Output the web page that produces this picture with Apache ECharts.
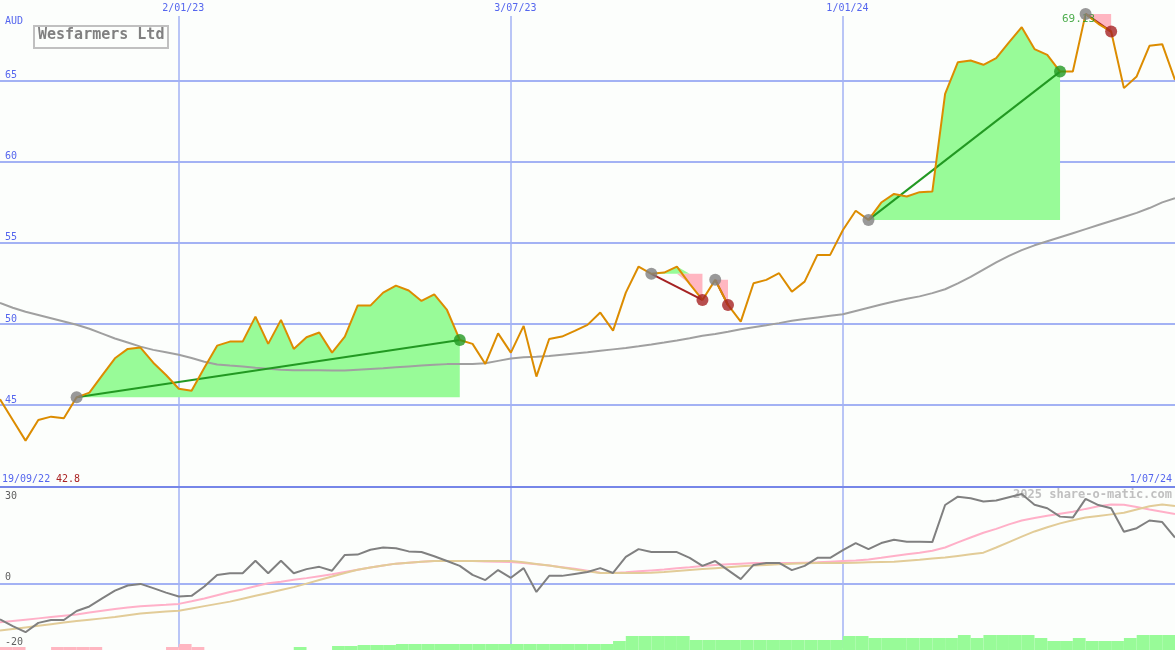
<!DOCTYPE html>
<html><head><meta charset="utf-8">
<script src="https://cdn.jsdelivr.net/npm/echarts@6/dist/echarts.min.js"></script>
<style>html,body{margin:0;padding:0;background:#fcfefc}#c{width:1175px;height:650px}</style>
</head><body><div id="c"></div>
<script>
// ---- data ----
const startDate = '2022-09-26';   // first weekly bar
const weekCount = 93;
const rangeStartLabel = '19/09/22';
const gridDates = ['2/01/23', '3/07/23', '1/01/24'];
const price = [45.35,44.07,42.8,44.07,44.28,44.18,45.47,45.76,46.83,47.88,48.46,48.54,47.61,46.85,46.0,45.88,47.29,48.66,48.91,48.91,
50.45,48.77,50.25,48.46,49.18,49.47,48.23,49.22,51.13,51.13,51.93,52.36,52.06,51.42,51.83,50.86,49.01,48.77,47.53,49.42,
48.23,49.88,46.75,49.07,49.22,49.57,49.94,50.70,49.59,51.93,53.54,53.09,53.17,53.54,52.47,51.48,52.72,51.17,50.14,52.51,
52.72,53.13,51.99,52.61,54.26,54.26,55.8,56.98,56.42,57.49,58.02,57.86,58.13,58.17,64.2,66.15,66.25,65.99,66.4,67.37,
68.31,66.96,66.6,65.57,65.57,69.13,68.52,68.04,64.55,65.27,67.16,67.26,65.06];
const ma40 = [51.3,51.0,50.75,50.55,50.35,50.15,49.95,49.7,49.4,49.1,48.85,48.6,48.4,48.25,48.1,47.9,47.67,47.5,47.43,47.38,
47.3,47.24,47.18,47.14,47.14,47.14,47.12,47.13,47.18,47.22,47.26,47.32,47.38,47.43,47.48,47.52,47.53,47.53,47.57,47.72,
47.87,47.94,47.97,48.02,48.1,48.18,48.25,48.34,48.43,48.52,48.62,48.73,48.85,48.98,49.12,49.27,49.38,49.52,49.67,49.8,
49.92,50.05,50.2,50.3,50.4,50.5,50.6,50.8,51.0,51.2,51.38,51.55,51.7,51.9,52.14,52.5,52.9,53.35,53.8,54.2,
54.55,54.85,55.1,55.35,55.6,55.85,56.1,56.35,56.6,56.85,57.15,57.5,57.76];
const oscGray = [-11.1,-13.2,-15.1,-12.2,-11.3,-11.3,-8.5,-7.1,-4.6,-2.2,-0.6,-0.1,-1.4,-2.8,-4.0,-3.8,-0.9,2.7,3.2,3.2,
7.1,3.2,7.1,3.2,4.5,5.2,4.0,8.9,9.0,10.5,11.2,11.0,10.0,9.8,8.5,7.0,5.5,2.7,1.1,4.2,
1.8,4.8,-2.6,2.4,2.4,3.0,3.6,4.8,3.3,8.3,10.7,9.8,9.8,9.8,8.0,5.5,7.0,4.2,1.4,5.8,
6.4,6.4,4.2,5.5,8.0,8.0,10.4,12.6,10.7,12.6,13.6,13.0,13.0,12.9,24.4,27.0,26.5,25.5,25.8,26.8,
27.8,24.5,23.4,20.8,20.5,26.3,24.4,23.4,16.1,17.2,19.6,19.1,14.3];
const oscPink = [-12.0,-11.6,-11.2,-10.8,-10.4,-10.0,-9.6,-9.0,-8.4,-7.9,-7.4,-7.0,-6.8,-6.6,-6.3,-5.5,-4.6,-3.6,-2.6,-1.8,
-0.8,0.1,0.6,1.2,1.7,2.3,2.9,3.6,4.3,5.0,5.6,6.2,6.5,6.8,7.0,7.0,7.0,7.0,6.9,6.8,
6.7,6.4,6.0,5.6,5.1,4.6,4.0,3.4,3.3,3.5,3.8,4.1,4.4,4.8,5.1,5.5,5.8,6.0,6.2,6.4,
6.4,6.4,6.4,6.5,6.6,6.8,7.0,7.2,7.5,8.0,8.6,9.1,9.6,10.2,11.2,12.8,14.3,15.8,17.0,18.4,
19.6,20.4,21.1,21.7,22.3,23.2,24.0,24.6,24.5,23.8,23.0,22.3,21.6];
const oscTan = [-14.6,-14.1,-13.6,-13.1,-12.6,-12.1,-11.6,-11.2,-10.8,-10.4,-9.8,-9.3,-9.0,-8.7,-8.4,-7.7,-7.0,-6.3,-5.6,-4.7,
-3.8,-2.9,-2.0,-1.1,0.0,1.1,2.2,3.3,4.3,5.0,5.6,6.2,6.5,6.8,7.0,7.0,7.0,7.0,7.0,7.0,
7.0,6.6,6.1,5.6,5.0,4.4,3.8,3.3,3.3,3.3,3.3,3.4,3.6,3.9,4.2,4.5,4.8,5.1,5.4,5.6,
5.8,6.0,6.2,6.3,6.4,6.4,6.4,6.5,6.6,6.7,6.8,7.1,7.4,7.8,8.1,8.6,9.1,9.6,11.2,12.9,
14.6,16.2,17.5,18.7,19.7,20.5,21.0,21.5,22.0,23.0,24.0,24.6,24.1];
// one bar per week interval (92)
const volumeBars = [-3,-3,0,0,-3,-3,-3,-3,0,0,0,0,0,-3,-6,-3,0,0,0,0,
0,0,0,3,0,0,4,4,5,5,5,6,6,6,6,6,6,6,6,6,
6,6,6,6,6,6,6,6,9,14,14,14,14,14,10,10,10,10,10,10,
10,10,10,10,10,10,14,14,12,12,12,12,12,12,12,15,12,15,15,15,
15,12,9,9,12,9,9,9,12,15,15,15];
const tradeEntry = [6, 51, 56, 68, 85];
const tradeExit  = [36, 55, 57, 83, 87];

// ---- helpers ----
const N = weekCount;
const dates = [];
{
  const d0 = new Date(startDate + 'T00:00:00Z');
  for (let i = 0; i < N; i++) {
    const d = new Date(d0.getTime() + i * 7 * 86400000);
    dates.push(d.getUTCDate() + '/' + String(d.getUTCMonth() + 1).padStart(2, '0') + '/' + String(d.getUTCFullYear() % 100).padStart(2, '0'));
  }
}
const isGrid = (i) => gridDates.indexOf(dates[i]) >= 0;

const BLUE = '#5566ee', GRID = '#a3b2f4';
const GREEN_FILL = '#98fb98', PINK_FILL = '#ffb6c1';
const WIN = '#229922', LOSS = '#a52222';
const MONO = '"DejaVu Sans Mono", monospace';

const series = [];
// fills between entry level and price
tradeEntry.forEach((e, t) => {
  const x = tradeExit[t], lvl = price[e];
  [1, -1].forEach(sign => {
    const base = [], top = [];
    for (let i = 0; i < N; i++) {
      if (i < e || i > x) { base.push('-'); top.push('-'); continue; }
      if (sign > 0) { base.push(lvl); top.push(Math.max(price[i], lvl) - lvl); }
      else { const m = Math.min(price[i], lvl); base.push(m); top.push(lvl - m); }
    }
    const st = 'fill' + t + (sign > 0 ? 'g' : 'p');
    series.push({ type: 'line', stack: st, data: base, symbol: 'none', clip: false, lineStyle: { width: 0, opacity: 0 }, silent: true, z: 1 });
    series.push({ type: 'line', stack: st, data: top, symbol: 'none', clip: false, lineStyle: { width: 0, opacity: 0 },
      areaStyle: { color: sign > 0 ? GREEN_FILL : PINK_FILL, opacity: 1 }, silent: true, z: 1 });
  });
});
// long moving average
series.push({ type: 'line', data: ma40, symbol: 'none', lineStyle: { color: '#a0a0a0', width: 2 }, z: 3 });
// trade lines
tradeEntry.forEach((e, t) => {
  const x = tradeExit[t];
  const d = price.map((v, i) => (i === e || i === x) ? v : '-');
  series.push({ type: 'line', data: d, connectNulls: true, symbol: 'none', clip: false,
    lineStyle: { color: price[x] >= price[e] ? WIN : LOSS, width: 2 }, z: 4 });
});
// price
series.push({ type: 'line', data: price, symbol: 'none', clip: false, lineStyle: { color: '#dc8c00', width: 2 }, z: 5 });
// markers
const lastT = tradeEntry.length - 1;
series.push({ type: 'scatter', symbolSize: 12, clip: false, itemStyle: { color: '#808080' }, z: 7,
  data: tradeEntry.map((e) => [e, price[e]]) });
series.push({ type: 'scatter', symbolSize: 12, clip: false, z: 7,
  data: tradeExit.map((x, t) => ({ value: [x, price[x]], itemStyle: { color: price[x] >= price[tradeEntry[t]] ? WIN : LOSS } })) });
// entry price label of the latest trade
series.push({ type: 'scatter', symbolSize: 1, clip: false, z: 6, itemStyle: { color: 'transparent' },
  data: [{ value: [tradeEntry[lastT], price[tradeEntry[lastT]]],
    label: { show: true, formatter: price[tradeEntry[lastT]].toFixed(2), position: 'left', distance: -10, offset: [0, 5],
      color: WIN, fontFamily: MONO, fontSize: 11 } }] });
// lower panel
series.push({ type: 'line', xAxisIndex: 1, yAxisIndex: 1, data: oscPink, symbol: 'none', lineStyle: { color: '#ffb0c8', width: 2 }, z: 3 });
series.push({ type: 'line', xAxisIndex: 1, yAxisIndex: 1, data: oscTan, symbol: 'none', lineStyle: { color: '#e2cc98', width: 2 }, z: 3 });
series.push({ type: 'line', xAxisIndex: 1, yAxisIndex: 1, data: oscGray, symbol: 'none', lineStyle: { color: '#808080', width: 2 }, z: 4 });
series.push({ type: 'bar', xAxisIndex: 2, yAxisIndex: 2, barCategoryGap: '0%', z: 2,
  data: volumeBars.map(v => ({ value: Math.abs(v), itemStyle: { color: v < 0 ? PINK_FILL : GREEN_FILL } })) });

const catAxis = (gi, extra) => Object.assign({
  type: 'category', gridIndex: gi, data: dates, boundaryGap: false,
  axisTick: { show: false }, axisLine: { show: false }, axisLabel: { show: false },
  splitLine: { show: true, interval: (i) => isGrid(i), lineStyle: { color: GRID, width: 1.5 } }
}, extra);

const option = {
  animation: false,
  backgroundColor: '#fcfefc',
  grid: [
    { left: 0, right: 0, top: 16, height: 470 },
    { left: 0, right: 0, top: 487, height: 161 },
    { left: 0, right: 0, top: 630, height: 20 }
  ],
  xAxis: [
    catAxis(0, { position: 'top', axisLabel: { show: true, interval: (i) => isGrid(i), margin: 3, padding: [0, 0, 0, 9],
      color: BLUE, fontFamily: MONO, fontSize: 10 } }),
    catAxis(1, { position: 'top', axisLine: { show: true, onZero: false, lineStyle: { color: '#7686e8', width: 2 } } }),
    catAxis(2, { data: dates.slice(0, N - 1), boundaryGap: true, splitLine: { show: false } })
  ],
  yAxis: [
    { type: 'value', gridIndex: 0, min: 40, max: 69, interval: 5,
      axisLine: { show: false }, axisTick: { show: false },
      axisLabel: { inside: true, margin: 5, verticalAlign: 'bottom', color: BLUE, fontFamily: MONO, fontSize: 10,
        formatter: v => (v > 40 && v % 5 === 0) ? String(v) : '' },
      splitLine: { show: true, lineStyle: { color: ['transparent', GRID, GRID, GRID, GRID, GRID, 'transparent'], width: 2 } } },
    { type: 'value', gridIndex: 1, min: -20, max: 30, interval: 10,
      axisLine: { show: false }, axisTick: { show: false },
      axisLabel: { inside: true, margin: 5, verticalAlign: 'middle', color: '#606060', fontFamily: MONO, fontSize: 10,
        formatter: v => v === 30 ? '{d|30}' : (v === 0 || v === -20) ? '{u|' + v + '}' : '',
        rich: { d: { padding: [18, 0, 0, 0] }, u: { padding: [0, 0, 12, 0] } } },
      splitLine: { show: true, lineStyle: { color: ['transparent', 'transparent', GRID, 'transparent', 'transparent', 'transparent'], width: 2 } } },
    { type: 'value', gridIndex: 2, min: 0, max: 20, show: false }
  ],
  graphic: [
    { type: 'rect', left: 33, top: 25, shape: { width: 134, height: 22 }, style: { fill: 'transparent', stroke: '#c0c0c0', lineWidth: 2 }, z: 10 },
    { type: 'text', left: 38, top: 28, style: { text: 'Wesfarmers Ltd', fill: '#808080', font: 'bold 15px ' + MONO }, z: 10 },
    { type: 'text', left: 5, top: 16, style: { text: 'AUD', fill: BLUE, font: '10px ' + MONO }, z: 10 },
    { type: 'text', left: 2, top: 474, style: { text: rangeStartLabel, fill: BLUE, font: '10px ' + MONO }, z: 10 },
    { type: 'text', left: 56, top: 474, style: { text: Math.min.apply(null, price).toFixed(1), fill: '#aa2222', font: '10px ' + MONO }, z: 10 },
    { type: 'text', right: 3, top: 474, style: { text: dates[N - 1], fill: BLUE, font: '10px ' + MONO }, z: 10 },
    { type: 'text', right: 3, top: 489, style: { text: '2025 share-o-matic.com', fill: '#c0c0c0', font: 'bold 12px ' + MONO }, z: 1 }
  ],
  series: series
};
const chart = echarts.init(document.getElementById('c'));
chart.setOption(option);
</script></body></html>
